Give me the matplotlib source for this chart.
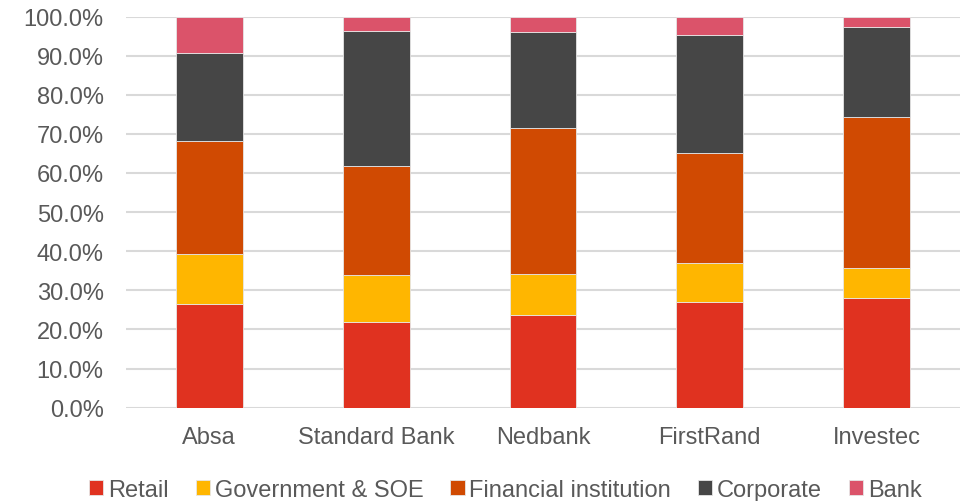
import matplotlib
matplotlib.use("Agg")
import matplotlib.pyplot as plt
import numpy as np
from matplotlib.ticker import PercentFormatter

plt.rcParams['font.family'] = ['Liberation Sans', 'DejaVu Sans']

# Share of each bank's book by client type (%)
banks = ["Absa", "Standard Bank", "Nedbank", "FirstRand", "Investec"]
retail = [26.6, 22.0, 23.8, 26.9, 28.0]
government = [12.8, 11.8, 10.4, 10.1, 7.7]
financial = [28.8, 28.0, 37.2, 28.0, 38.6]
corporate = [22.5, 34.6, 24.7, 30.2, 23.0]
bank = [9.3, 3.6, 3.9, 4.8, 2.7]

series = [
    ("Retail", retail, "#E03220"),
    ("Government & SOE", government, "#FFB600"),
    ("Financial institution", financial, "#D04A02"),
    ("Corporate", corporate, "#464646"),
    ("Bank", bank, "#DB536A"),
]

fig = plt.figure(figsize=(9.61, 5.02), dpi=100)
ax = fig.add_axes([0.131, 0.186, 0.868, 0.779])

x = np.arange(len(banks))
bottom = np.zeros(len(banks))
for name, vals, col in series:
    vals = np.array(vals)
    ax.bar(x, vals, 0.4, bottom=bottom, color=col, label=name,
           edgecolor="#E6E6E6", linewidth=0.6, zorder=3)
    bottom += vals

ax.set_xlim(-0.5, len(banks) - 0.5)
ax.set_ylim(0, 100)
ax.set_yticks(np.arange(0, 101, 10))
ax.yaxis.set_major_formatter(PercentFormatter(decimals=1))
ax.set_xticks(x)
ax.set_xticklabels(banks)
ax.grid(axis="y", color="#D9D9D9", linewidth=1.5, zorder=0)
for s in ax.spines.values():
    s.set_visible(False)
ax.tick_params(length=0, labelsize=17, colors="#595959")
ax.tick_params(axis="x", pad=13)
ax.tick_params(axis="y", pad=16)

ax.legend(loc="upper center", bbox_to_anchor=(0.455, -0.128), ncol=5,
          frameon=False, fontsize=17, handlelength=0.6, handleheight=0.6,
          handletextpad=0.2, columnspacing=1.15, labelcolor="#595959")

fig.savefig("out.png", dpi=100)
